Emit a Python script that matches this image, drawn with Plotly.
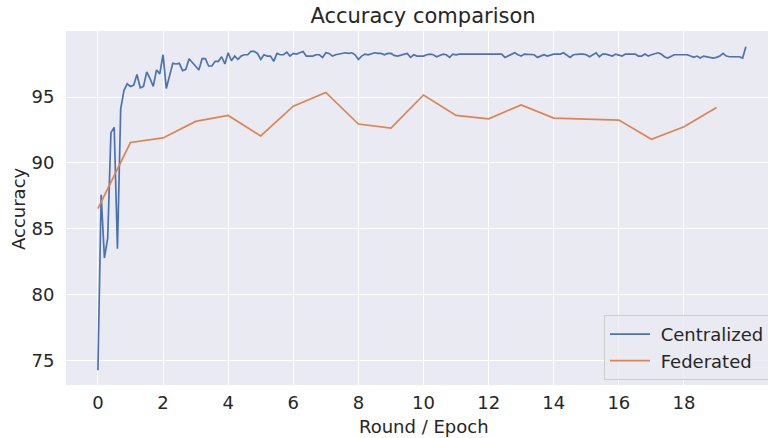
import plotly.graph_objects as go

# Centralized accuracy, sampled every 0.1 epoch (200 points)
centralized_acc = [
    74.3, 87.6, 82.8, 84.3, 92.3, 92.7, 83.5, 94.1, 95.5, 96.0,
    95.8, 95.9, 96.7, 95.7, 95.8, 96.9, 96.4, 95.8, 97.05, 96.75,
    98.2, 95.65, 96.6, 97.55, 97.5, 97.55, 97.0, 97.1, 97.9, 97.6,
    97.3, 97.05, 97.9, 97.9, 97.35, 97.35, 97.7, 97.7, 98.05, 97.5,
    98.35, 97.75, 98.1, 97.85, 98.1, 98.2, 98.2, 98.45, 98.45, 98.3,
    97.85, 98.2, 98.1, 98.1, 97.7, 98.3, 98.2, 98.2, 98.4, 98.1,
    98.3, 98.25, 98.35, 98.45, 98.1, 98.1, 98.1, 98.2, 98.2, 98.0,
    98.35, 98.3, 98.1, 98.2, 98.25, 98.25, 98.35, 98.3, 98.35, 98.2,
    97.85, 98.1, 98.25, 98.2, 98.25, 98.35, 98.3, 98.3, 98.2, 98.3,
    98.3, 98.15, 98.1, 98.15, 98.25, 98.3, 98.0, 98.2, 98.1, 98.1,
    98.1, 98.2, 98.25, 98.2, 98.05, 98.15, 98.25, 98.2, 98.0, 98.25,
    98.2, 98.25, 98.25, 98.25, 98.25, 98.25, 98.25, 98.2, 98.25, 98.2,
    98.2, 98.2, 98.25, 98.2, 98.25, 98.0, 98.1, 98.25, 98.35, 98.2,
    98.1, 98.25, 98.25, 98.25, 98.2, 98.0, 98.1, 98.2, 98.1, 98.2,
    98.25, 98.25, 98.25, 98.35, 98.2, 98.0, 98.2, 98.25, 98.25, 98.25,
    98.2, 98.05, 98.2, 98.35, 98.05, 98.25, 98.25, 98.2, 98.1, 98.25,
    98.2, 98.1, 98.25, 98.25, 98.25, 98.25, 98.1, 98.1, 98.25, 98.1,
    98.2, 98.25, 98.35, 98.25, 98.05, 97.95, 98.05, 98.2, 98.2, 98.2,
    98.2, 98.2, 98.1, 98.0, 98.1, 97.95, 98.1, 98.05, 98.0, 97.95,
    98.0, 98.1, 98.3, 98.1, 98.05, 98.05, 98.1, 98.05, 97.95, 98.8,
]
centralized_epochs = [round(i * 0.1, 1) for i in range(len(centralized_acc))]

# Federated accuracy per round
federated_rounds = list(range(20))
federated_acc = [
    86.55, 91.55, 91.9, 93.15, 93.6, 92.05, 94.3, 95.35, 92.95, 92.65,
    95.15, 93.6, 93.35, 94.4, 93.4, 93.35, 93.25, 91.8, 92.75, 94.2,
]

x_ticks = [0, 2, 4, 6, 8, 10, 12, 14, 16, 18]
y_ticks = [75, 80, 85, 90, 95]
series_names = ["Centralized", "Federated"]

BLUE = "#4C72B0"
ORANGE = "#DD8452"
TEXT = "#262626"
FONT = "DejaVu Sans"
W, H = 768, 438
ML, MR, MT, MB = 66, 0, 31, 53
NBSP = "\u00a0"

fig = go.Figure()
fig.add_trace(go.Scatter(x=centralized_epochs, y=centralized_acc, mode="lines",
                         name=NBSP + series_names[0], line=dict(color=BLUE, width=1.7)))
fig.add_trace(go.Scatter(x=federated_rounds, y=federated_acc, mode="lines",
                         name=NBSP + series_names[1], line=dict(color=ORANGE, width=1.7)))

fig.update_layout(
    width=W, height=H,
    margin=dict(l=ML, r=MR, t=MT, b=MB, autoexpand=False),
    paper_bgcolor="white",
    plot_bgcolor="#EAEAF2",
    font=dict(family=FONT, size=18, color=TEXT),
    title=dict(text="Accuracy comparison", x=423 / W, xanchor="center", xref="container",
               y=1 - 16 / H, yanchor="middle", yref="container",
               font=dict(family=FONT, size=21, color=TEXT)),
    showlegend=True,
    legend=dict(x=(604 - ML) / (W - ML - MR), y=(H - MB - 315) / (H - MT - MB),
                xanchor="left", yanchor="top",
                bgcolor="rgba(234,234,242,0.8)", bordercolor="#CCCCCC", borderwidth=1,
                font=dict(family=FONT, size=18, color=TEXT), itemwidth=40,
                tracegroupgap=0),
    annotations=[
        dict(text="Accuracy", xref="paper", yref="paper", x=-(ML - 18) / (W - ML - MR), y=0.5,
             xanchor="center", yanchor="middle", textangle=-90, showarrow=False,
             font=dict(family=FONT, size=18, color=TEXT)),
        dict(text="Round / Epoch", xref="paper", yref="paper", x=(424 - ML) / (W - ML - MR),
             y=-(426 - (H - MB)) / (H - MT - MB),
             xanchor="center", yanchor="middle", showarrow=False,
             font=dict(family=FONT, size=18, color=TEXT)),
    ],
)
fig.update_xaxes(
    range=[-0.98, 20.58], tickvals=x_ticks, showgrid=True, gridcolor="white", gridwidth=1.2,
    zeroline=False, showline=False, ticks="outside", ticklen=1, tickcolor="white",
    automargin=False, tickfont=dict(family=FONT, size=18, color=TEXT),
)
fig.update_yaxes(
    range=[73.18, 100.0], tickvals=y_ticks, showgrid=True, gridcolor="white", gridwidth=1.2,
    zeroline=False, showline=False, ticks="outside", ticklen=7, tickcolor="white",
    automargin=False, tickfont=dict(family=FONT, size=18, color=TEXT),
)

fig.write_html("out.html", config={"displayModeBar": False},
               post_script="document.body.style.margin='0';document.body.style.overflow='hidden';")
